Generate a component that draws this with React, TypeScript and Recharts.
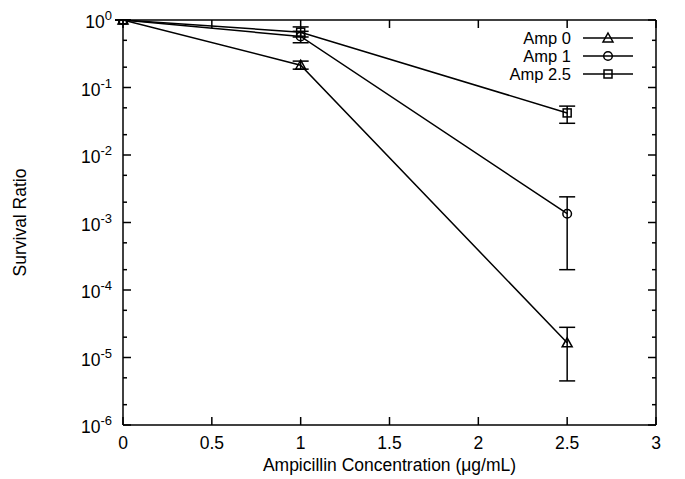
import React from "react";
import { LineChart, Line, XAxis, YAxis, ErrorBar, Legend, Label } from "recharts";

// ampicillin concentration (ug/mL) on x, survival ratio on y
const concentrations = [0, 1, 2.5];
const seriesNames = ["Amp 0", "Amp 1", "Amp 2.5"];
const seriesShapes = ["triangle", "circle", "square"];

const amp0 = [1, 0.214, 1.65e-5];
const amp0Low = [1, 0.187, 4.5e-6];
const amp0High = [1, 0.246, 2.8e-5];

const amp1 = [1, 0.57, 1.35e-3];
const amp1Low = [1, 0.46, 2.0e-4];
const amp1High = [1, 0.68, 2.4e-3];

const amp25 = [1, 0.66, 0.042];
const amp25Low = [1, 0.56, 0.0295];
const amp25High = [1, 0.79, 0.053];

const xTicks = [0, 0.5, 1, 1.5, 2, 2.5, 3];
const yTicks = [
  1e-6, 2e-6, 5e-6, 1e-5, 2e-5, 5e-5, 1e-4, 2e-4, 5e-4, 1e-3, 2e-3, 5e-3,
  1e-2, 2e-2, 5e-2, 1e-1, 2e-1, 5e-1, 1,
];

const FONT = "'Liberation Sans', Arial, Helvetica, sans-serif";

const data = concentrations.map((x, i) => ({
  x,
  a0: amp0[i],
  a1: amp1[i],
  a25: amp25[i],
  e0: [amp0[i] - amp0Low[i], amp0High[i] - amp0[i]],
  e1: [amp1[i] - amp1Low[i], amp1High[i] - amp1[i]],
  e25: [amp25[i] - amp25Low[i], amp25High[i] - amp25[i]],
}));

const isMajor = (v: number) => {
  const l = Math.log10(v);
  return Math.abs(l - Math.round(l)) < 1e-6;
};

const Marker = ({ cx, cy, shape }: { cx: number; cy: number; shape: string }) => {
  const common = { fill: "none", stroke: "#000", strokeWidth: 1.5 };
  if (shape === "triangle")
    return <path d={`M${cx},${cy - 5} L${cx + 5},${cy + 4} L${cx - 5},${cy + 4} Z`} {...common} />;
  if (shape === "circle") return <circle cx={cx} cy={cy} r={4.3} {...common} />;
  return <rect x={cx - 4} y={cy - 4} width={8} height={8} {...common} />;
};

const LeftTick = (props: any) => {
  const { x, y, payload } = props;
  const v = payload.value;
  const major = isMajor(v);
  const exp = Math.round(Math.log10(v));
  return (
    <g>
      <line x1={x} x2={x + (major ? 8 : 4)} y1={y} y2={y} stroke="#000" strokeWidth={1.5} />
      {major && (
        <text x={x - 11} y={y + 8} textAnchor="end" fontFamily={FONT} fontSize={17.5} fill="#000">
          10
          <tspan dy={-8} fontSize={13}>
            {exp}
          </tspan>
        </text>
      )}
    </g>
  );
};

const RightTick = (props: any) => {
  const { x, y, payload } = props;
  const major = isMajor(payload.value);
  return <line x1={x} x2={x - (major ? 8 : 4)} y1={y} y2={y} stroke="#000" strokeWidth={1.5} />;
};

const BottomTick = (props: any) => {
  const { x, y, payload } = props;
  return (
    <g>
      <line x1={x} x2={x} y1={y} y2={y - 8} stroke="#000" strokeWidth={1.5} />
      <text x={x} y={y + 24} textAnchor="middle" fontFamily={FONT} fontSize={17.5} fill="#000">
        {payload.value}
      </text>
    </g>
  );
};

const TopTick = (props: any) => {
  const { x, y } = props;
  return <line x1={x} x2={x} y1={y} y2={y + 8} stroke="#000" strokeWidth={1.5} />;
};

const renderLegend = () => (
  <svg width={160} height={62}>
    {seriesNames.map((name, i) => {
      const cy = 10 + i * 18;
      return (
        <g key={name}>
          <text x={81} y={cy + 6} textAnchor="end" fontFamily={FONT} fontSize={16.5} fill="#000">
            {name}
          </text>
          <line x1={93} x2={143} y1={cy} y2={cy} stroke="#000" strokeWidth={1.5} />
          <Marker cx={118} cy={cy} shape={seriesShapes[i]} />
        </g>
      );
    })}
  </svg>
);

const dotFor = (shape: string) => (p: any) =>
  <Marker key={`${shape}-${p.index}`} cx={p.cx} cy={p.cy} shape={shape} />;

export default function App() {
  return (
    <div style={{ position: "absolute", left: 0, top: 0 }}>
      <LineChart
        width={685}
        height={479}
        data={data}
        margin={{ top: 20, right: 29, bottom: 24, left: 63 }}
      >
        <XAxis
          dataKey="x"
          type="number"
          domain={[0, 3]}
          ticks={xTicks}
          interval={0}
          height={30}
          tickSize={0}
          tickMargin={0}
          tick={<BottomTick />}
          axisLine={{ stroke: "#000", strokeWidth: 1.5 }}
        >
          <Label
            content={({ viewBox }: any) => (
              <text
                x={viewBox.x + viewBox.width / 2}
                y={viewBox.y + 46}
                textAnchor="middle"
                fontFamily={FONT}
                fontSize={17.5}
                fill="#000"
              >
                Ampicillin Concentration (μg/mL)
              </text>
            )}
          />
        </XAxis>
        <XAxis
          xAxisId="top"
          orientation="top"
          dataKey="x"
          type="number"
          domain={[0, 3]}
          ticks={xTicks}
          interval={0}
          height={1}
          mirror
          tickSize={0}
          tickMargin={0}
          tick={<TopTick />}
          axisLine={{ stroke: "#000", strokeWidth: 1.5 }}
        />
        <YAxis
          type="number"
          scale="log"
          domain={[1e-6, 1]}
          allowDataOverflow
          ticks={yTicks}
          interval={0}
          width={60}
          tickSize={0}
          tickMargin={0}
          tick={<LeftTick />}
          axisLine={{ stroke: "#000", strokeWidth: 1.5 }}
        >
          <Label
            content={({ viewBox }: any) => {
              const cx = viewBox.x - 43;
              const cy = viewBox.y + viewBox.height / 2;
              return (
                <text
                  x={cx}
                  y={cy}
                  transform={`rotate(-90 ${cx} ${cy})`}
                  textAnchor="middle"
                  dominantBaseline="central"
                  fontFamily={FONT}
                  fontSize={17.5}
                  fill="#000"
                >
                  Survival Ratio
                </text>
              );
            }}
          />
        </YAxis>
        <YAxis
          yAxisId="right"
          orientation="right"
          type="number"
          scale="log"
          domain={[1e-6, 1]}
          allowDataOverflow
          ticks={yTicks}
          interval={0}
          width={1}
          mirror
          tickSize={0}
          tickMargin={0}
          tick={<RightTick />}
          axisLine={{ stroke: "#000", strokeWidth: 1.5 }}
        />
        <Legend
          layout="horizontal"
          align="center"
          verticalAlign="middle"
          wrapperStyle={{ position: "absolute", left: 490, top: 28, width: 160, height: 62 }}
          content={renderLegend}
        />
        <Line
          dataKey="a0"
          name={seriesNames[0]}
          stroke="#000"
          strokeWidth={1.5}
          dot={dotFor("triangle")}
          isAnimationActive={false}
        >
          <ErrorBar dataKey="e0" direction="y" width={8} stroke="#000" strokeWidth={1.5} />
        </Line>
        <Line
          dataKey="a1"
          name={seriesNames[1]}
          stroke="#000"
          strokeWidth={1.5}
          dot={dotFor("circle")}
          isAnimationActive={false}
        >
          <ErrorBar dataKey="e1" direction="y" width={8} stroke="#000" strokeWidth={1.5} />
        </Line>
        <Line
          dataKey="a25"
          name={seriesNames[2]}
          stroke="#000"
          strokeWidth={1.5}
          dot={dotFor("square")}
          isAnimationActive={false}
        >
          <ErrorBar dataKey="e25" direction="y" width={8} stroke="#000" strokeWidth={1.5} />
        </Line>
      </LineChart>
    </div>
  );
}
